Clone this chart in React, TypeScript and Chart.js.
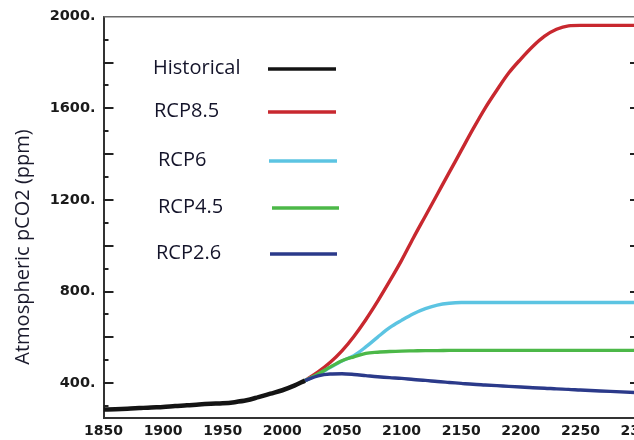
import React, { useEffect, useRef } from "react";
import { Chart, registerables } from "chart.js";

Chart.register(...registerables);

// ---- data ----
const HIST_YEARS = [1850, 1860, 1870, 1880, 1890, 1900, 1910, 1920, 1930, 1940, 1950, 1960, 1970, 1980, 1990, 2000, 2010, 2019];
const HIST_PPM = [285, 286, 288, 291, 294, 296, 300, 303, 307, 310, 312, 317, 325, 339, 354, 369, 389, 411];

const RCP_YEARS = [2019, 2030, 2040, 2050, 2060, 2070, 2080, 2090, 2100, 2110, 2120, 2130, 2140, 2150, 2160, 2170, 2180, 2190, 2200, 2210, 2220, 2230, 2240, 2250, 2275, 2300];
const RCP85 = [411, 449, 490, 541, 604, 677, 758, 845, 936, 1035, 1130, 1225, 1320, 1415, 1510, 1600, 1680, 1755, 1815, 1870, 1915, 1945, 1960, 1962, 1962, 1962];
const RCP6 = [411, 438, 468, 497, 520, 558, 601, 642, 674, 703, 725, 741, 749, 752, 752, 752, 752, 752, 752, 752, 752, 752, 752, 752, 752, 752];
const RCP45 = [411, 440, 470, 498, 515, 530, 535, 538, 540, 541, 542, 542, 543, 543, 543, 543, 543, 543, 543, 543, 543, 543, 543, 543, 543, 543];
const RCP26 = [411, 432, 440, 441, 438, 433, 428, 424, 421, 416, 412, 407, 403, 399, 395, 392, 389, 386, 383, 380, 378, 375, 373, 370, 364, 358];

const SERIES_LABELS = ["Historical", "RCP8.5", "RCP6", "RCP4.5", "RCP2.6"];
const SERIES_COLORS = ["#141414", "#c8282f", "#5cc4e2", "#4cb848", "#2b3a8a"];

const X_TICKS = [1850, 1900, 1950, 2000, 2050, 2100, 2150, 2200, 2250, 2300];
const Y_TICK_LABELS = [400, 800, 1200, 1600, 2000];
const Y_TITLE = "Atmospheric pCO2 (ppm)";

const toPoints = (xs: number[], ys: number[]) => xs.map((x, i) => ({ x, y: ys[i] }));

// ---- layout constants for overlay ----
const LEGEND_TEXT_X = [153, 154, 158, 158, 156];
const LEGEND_Y = [68, 111, 160, 207, 253];
const LEGEND_LINE_X0 = [268, 268, 269, 272, 270];
const LEGEND_LINE_X1 = [336, 336, 337, 339, 337];

const overlayPlugin = {
  id: "overlay",
  afterDraw(chart: any) {
    const { ctx, chartArea } = chart;
    const y = chart.scales.y;
    const { left, right, top } = chartArea;
    ctx.save();
    // top border
    ctx.strokeStyle = "#6b6b6b";
    ctx.lineWidth = 1.5;
    ctx.beginPath();
    ctx.moveTo(left, top);
    ctx.lineTo(right, top);
    ctx.stroke();
    // inward ticks
    ctx.strokeStyle = "#222";
    ctx.lineWidth = 2;
    for (let v = 300; v < 2000; v += 100) {
      const py = Math.round(y.getPixelForValue(v));
      const len = v % 200 === 0 ? 10 : 5;
      ctx.beginPath();
      ctx.moveTo(left, py);
      ctx.lineTo(left + len, py);
      ctx.stroke();
      if (v % 200 === 0) {
        ctx.beginPath();
        ctx.moveTo(right - 10, py);
        ctx.lineTo(right, py);
        ctx.stroke();
      }
    }
    // y axis title
    ctx.save();
    ctx.translate(23, 247);
    ctx.rotate(-Math.PI / 2);
    ctx.fillStyle = "#1a1a2c";
    ctx.font = "20px 'Open Sans'";
    ctx.textAlign = "center";
    ctx.textBaseline = "middle";
    ctx.fillText(Y_TITLE, 0, 0);
    ctx.restore();
    // legend
    chart.data.datasets.forEach((ds: any, i: number) => {
      ctx.fillStyle = "#14142a";
      ctx.font = "20px 'Open Sans'";
      ctx.textAlign = "left";
      ctx.textBaseline = "middle";
      ctx.fillText(ds.label, LEGEND_TEXT_X[i], LEGEND_Y[i]);
      ctx.strokeStyle = ds.borderColor;
      ctx.lineWidth = 3.5;
      ctx.beginPath();
      ctx.moveTo(LEGEND_LINE_X0[i], LEGEND_Y[i] + 1);
      ctx.lineTo(LEGEND_LINE_X1[i], LEGEND_Y[i] + 1);
      ctx.stroke();
    });
    ctx.restore();
  },
};

export default function App() {
  const ref = useRef<HTMLCanvasElement | null>(null);
  useEffect(() => {
    if (!ref.current) return;
    const seriesData = [
      toPoints(HIST_YEARS, HIST_PPM),
      toPoints(RCP_YEARS, RCP85),
      toPoints(RCP_YEARS, RCP6),
      toPoints(RCP_YEARS, RCP45),
      toPoints(RCP_YEARS, RCP26),
    ];
    const drawOrder = [0, 4, 3, 2, 1];
    const chart = new Chart(ref.current, {
      type: "line",
      data: {
        datasets: SERIES_LABELS.map((label, i) => ({
          label,
          data: seriesData[i],
          borderColor: SERIES_COLORS[i],
          backgroundColor: SERIES_COLORS[i],
          borderWidth: i === 0 ? 4.5 : 3.4,
          pointRadius: 0,
          cubicInterpolationMode: "monotone" as const,
          fill: false,
          order: drawOrder[i],
        })),
      },
      options: {
        animation: false,
        responsive: false,
        layout: { padding: { left: 0, top: 15, right: 60, bottom: 0 } },
        plugins: { legend: { display: false }, tooltip: { enabled: false } },
        scales: {
          x: {
            type: "linear",
            min: 1850,
            max: 2300,
            afterBuildTicks: (s: any) => {
              s.ticks = X_TICKS.map((v) => ({ value: v }));
            },
            afterFit: (s: any) => {
              s.height = 22.5;
            },
            grid: { display: true, drawOnChartArea: false, drawTicks: false },
            border: { display: true, color: "#333", width: 2 },
            ticks: {
              autoSkip: false,
              maxRotation: 0,
              padding: 5,
              color: "#1a1a1a",
              font: { family: "'DejaVu Sans'", size: 14, weight: "bold" },
              callback: (v: any) => String(v),
            },
          },
          y: {
            type: "linear",
            min: 250,
            max: 2000,
            afterBuildTicks: (s: any) => {
              s.ticks = Y_TICK_LABELS.map((v) => ({ value: v }));
            },
            afterFit: (s: any) => {
              s.width = 103.5;
            },
            grid: { display: true, drawOnChartArea: false, drawTicks: false },
            border: { display: true, color: "#333", width: 2 },
            ticks: {
              padding: 8,
              color: "#1a1a1a",
              font: { family: "'DejaVu Sans'", size: 14.5, weight: "bold" },
              callback: (v: any) => `${v}.`,
            },
          },
        },
      },
      plugins: [overlayPlugin],
    });
    return () => chart.destroy();
  }, []);

  return (
    <div style={{ position: "fixed", left: 0, top: 0, width: 634, height: 440, overflow: "hidden", background: "#fff" }}>
      <canvas ref={ref} width={700} height={440} style={{ display: "block", width: 700, height: 440 }} />
    </div>
  );
}
